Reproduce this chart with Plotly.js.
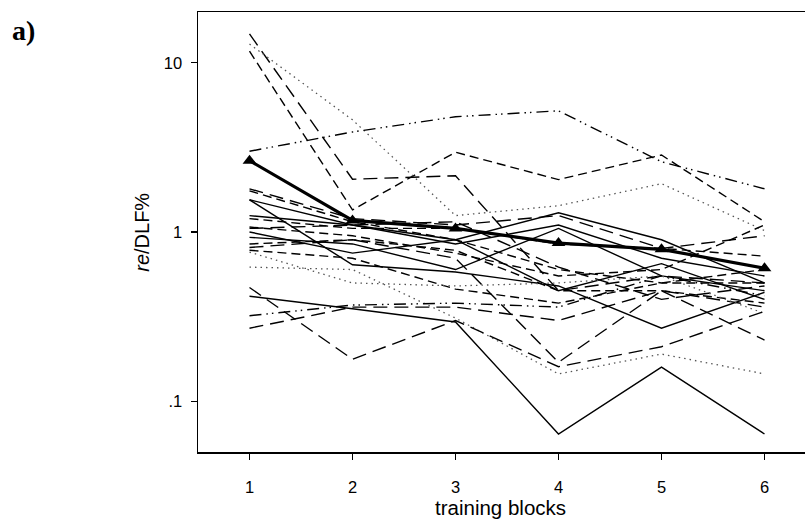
<!DOCTYPE html>
<html>
<head>
<meta charset="utf-8">
<script src="https://cdn.plot.ly/plotly-3.0.1.min.js"></script>
<style>
html,body{margin:0;padding:0;overflow:hidden;background:#fff;}
#chart{width:830px;height:528px;}
</style>
</head>
<body>
<div id="chart"></div>
<script>
// training blocks
var blocks = [1, 2, 3, 4, 5, 6];
var xTickLabels = ['1', '2', '3', '4', '5', '6'];
var yTickValues = [0.1, 1, 10];
var yTickLabels = ['.1', '1', '10'];

// individual subjects (re/DLF%)
var s01 = [14.8, 2.05, 2.15, 0.45, 0.55, 0.50];
var s02 = [11.7, 1.35, 2.96, 2.04, 2.85, 1.15];
var s03 = [12.9, 4.60, 1.25, 1.43, 1.93, 1.02];
var s04 = [3.00, 3.90, 4.80, 5.20, 2.60, 1.80];
var s05 = [1.80, 1.20, 1.10, 1.25, 0.80, 0.95];
var s06 = [1.75, 1.15, 0.90, 0.60, 0.50, 0.50];
var s07 = [1.55, 1.10, 0.90, 1.30, 0.90, 0.50];
var s08 = [1.55, 0.64, 0.58, 0.48, 0.27, 0.44];
var s09 = [1.25, 1.10, 0.85, 1.10, 0.70, 0.55];
var s10 = [1.20, 1.05, 1.05, 0.85, 0.80, 0.72];
var s11 = [1.07, 0.95, 0.75, 0.55, 0.60, 1.10];
var s12 = [1.05, 1.10, 1.15, 0.62, 0.40, 0.48];
var s13 = [1.00, 0.75, 0.90, 0.45, 0.65, 0.40];
var s14 = [0.93, 0.85, 0.60, 1.05, 0.55, 0.45];
var s15 = [0.85, 0.90, 0.78, 0.45, 0.45, 0.38];
var s16 = [0.81, 0.90, 0.70, 0.17, 0.45, 0.36];
var s17 = [0.78, 0.70, 0.46, 0.38, 0.50, 0.60];
var s18 = [0.76, 0.50, 0.48, 0.50, 0.55, 0.33];
var s19 = [0.62, 0.60, 0.31, 0.145, 0.19, 0.145];
var s20 = [0.47, 0.177, 0.30, 0.16, 0.21, 0.34];
var s21 = [0.417, 0.352, 0.294, 0.064, 0.159, 0.064];
var s22 = [0.32, 0.37, 0.38, 0.36, 0.55, 0.42];
var s23 = [0.27, 0.36, 0.36, 0.30, 0.45, 0.23];

// group mean (bold line with triangles)
var meanValues = [2.64, 1.17, 1.05, 0.86, 0.79, 0.61];

var subjects = [s01, s02, s03, s04, s05, s06, s07, s08, s09, s10, s11, s12,
                s13, s14, s15, s16, s17, s18, s19, s20, s21, s22, s23];
var styles = ['longdash', 'dash', 'dot', 'dashdot', 'longdash', 'dash', 'solid', 'solid',
              'solid', 'dash', 'dash', 'longdash', 'solid', 'solid', 'dash', 'longdash',
              'dash', 'dot', 'dot', 'longdash', 'solid', 'dashdot', 'longdash'];

var dashMap = {
  solid: 'solid',
  dash: '9px,5px',
  longdash: '14px,7px',
  dot: '1.5px,4px',
  dashdot: '12px,5px,1.5px,4px,1.5px,5px'
};

var traces = subjects.map(function (vals, i) {
  var st = styles[i];
  return {
    x: blocks, y: vals, type: 'scatter', mode: 'lines',
    line: {color: st === 'dot' ? '#555' : '#000', width: st === 'dot' ? 1.3 : 1.4, dash: dashMap[st]},
    hoverinfo: 'skip', showlegend: false
  };
});
traces.push({
  x: blocks, y: meanValues, type: 'scatter', mode: 'lines+markers',
  line: {color: '#000', width: 3.2},
  marker: {symbol: 'triangle-up', size: 12, color: '#000'},
  showlegend: false
});

var layout = {
  width: 830, height: 528,
  margin: {l: 198, r: 14, t: 12, b: 76},
  paper_bgcolor: '#fff', plot_bgcolor: '#fff',
  font: {family: 'Liberation Sans, Arial, sans-serif', color: '#000', size: 16.5},
  xaxis: {
    range: [0.5, 6.5], tickvals: blocks, ticktext: xTickLabels,
    showgrid: false, zeroline: false, showline: true, linecolor: '#000', linewidth: 1.5,
    mirror: true, ticks: 'outside', ticklen: 6, tickwidth: 1.2, tickcolor: '#000',
    tickfont: {size: 16.5}, ticklabelstandoff: 14
  },
  yaxis: {
    type: 'log', range: [-1.3, 1.3], tickvals: yTickValues, ticktext: yTickLabels,
    showgrid: false, zeroline: false, showline: true, linecolor: '#000', linewidth: 1.5,
    mirror: true, ticks: 'outside', ticklen: 6, tickwidth: 1.2, tickcolor: '#000',
    tickfont: {size: 16.5}, ticklabelstandoff: 5
  },
  annotations: [
    {text: '<b>a)</b>', xref: 'paper', yref: 'paper', x: -0.283, y: 0.959, xanchor: 'center', yanchor: 'middle',
     showarrow: false, font: {family: 'Liberation Serif, Times New Roman, serif', size: 28}},
    {text: '<i>re</i>/DLF%', xref: 'paper', yref: 'paper', x: -0.091, y: 0.5, textangle: -90,
     xanchor: 'center', yanchor: 'middle', showarrow: false, font: {size: 20}},
    {text: 'training blocks', xref: 'paper', yref: 'paper', x: 0.489, y: -0.127,
     xanchor: 'center', yanchor: 'middle', showarrow: false, font: {size: 20.5}}
  ]
};

Plotly.newPlot('chart', traces, layout, {displayModeBar: false, staticPlot: true});
</script>
</body>
</html>
